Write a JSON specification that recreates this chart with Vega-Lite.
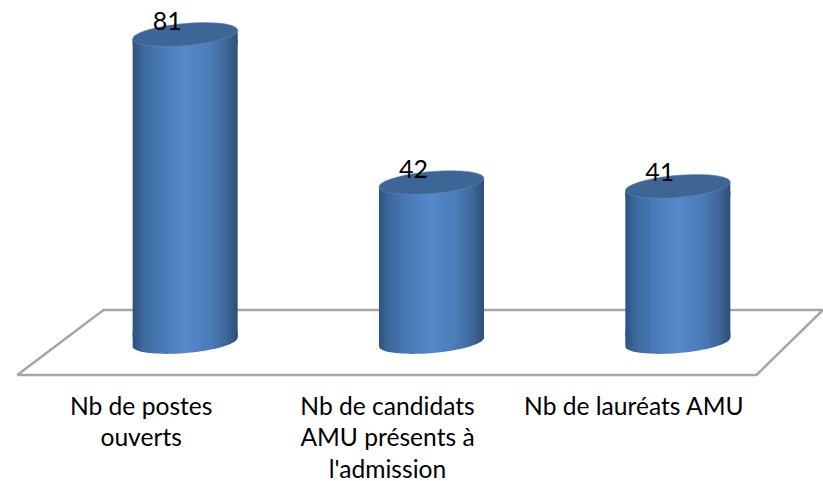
{
"$schema":"https://vega.github.io/schema/vega-lite/v6.json",
"width":823,"height":377,"padding":{"left":0,"top":0,"right":0,"bottom":104},"autosize":{"type":"none"},
"background":"white",
"config":{"view":{"stroke":null}},
"datasets":{
"bars":[{"cat":"Nb de postes ouverts","value":81},{"cat":"Nb de candidats AMU présents à l'admission","value":42},{"cat":"Nb de lauréats AMU","value":41}],
"floor":[{"px":0.32,"depth":-8.69,"o":1},{"px":3.32,"depth":-8.69,"o":2},{"px":3.59,"depth":8.43,"o":3},{"px":0.67,"depth":8.43,"o":4},{"px":0.32,"depth":-8.69,"o":5}]
},
"resolve":{"scale":{"x":"independent"}},
"layer":[
{"data":{"name":"floor"},
 "mark":{"type":"line","stroke":"#a6a6a6","strokeWidth":2.5,"clip":true},
 "encoding":{
  "x":{"field":"px","type":"quantitative","scale":{"domain":[0.25,3.59]},"axis":null},
  "y":{"field":"depth","type":"quantitative","scale":{"domain":[-9.22,90.1],"nice":false,"zero":false},"axis":null},
  "order":{"field":"o","type":"quantitative"}}},
{"data":{"name":"bars"},
 "encoding":{
  "x":{"field":"cat","type":"nominal","sort":null,"title":null,
   "scale":{"range":[62,801],"paddingInner":0,"paddingOuter":0},
   "axis":{"domain":false,"ticks":false,"grid":false,"labelAngle":0,"labelOffset":-44,"labelPadding":18,"labelFont":"Lato","labelFontSize":24.6,"labelColor":"#000000","labelLineHeight":31.5,"labelLimit":400,"labelBaseline":"top","labelAlign":"center",
    "labelExpr":"datum.label == 'Nb de postes ouverts' ? ['Nb de postes','ouverts'] : datum.label == 'Nb de lauréats AMU' ? datum.label : ['Nb de candidats','AMU présents à',\"l'admission\"]"}}},
 "layer":[
  {"mark":{"type":"point","filled":true,"opacity":1,"size":11025,"shape":"M -1 -0.2 L 1 -0.2 L 1 -0.087 A 1 0.21 -5 1 1 -1 0.087 Z","fill":{"x1":0,"x2":1,"y1":0,"y2":0,"gradient":"linear","stops":[{"offset":0,"color":"#2b5080"},{"offset":0.08,"color":"#3a6699"},{"offset":0.25,"color":"#4778b4"},{"offset":0.5,"color":"#5688ca"},{"offset":0.72,"color":"#4b7dba"},{"offset":0.88,"color":"#40699c"},{"offset":1,"color":"#2f4e76"}]}},
   "encoding":{"y":{"datum":0,"type":"quantitative"}}},
  {"mark":{"type":"bar","size":105,"yOffset":5,"y2Offset":-5,"fill":{"x1":0,"x2":1,"y1":0,"y2":0,"gradient":"linear","stops":[{"offset":0,"color":"#2b5080"},{"offset":0.08,"color":"#3a6699"},{"offset":0.25,"color":"#4778b4"},{"offset":0.5,"color":"#5688ca"},{"offset":0.72,"color":"#4b7dba"},{"offset":0.88,"color":"#40699c"},{"offset":1,"color":"#2f4e76"}]}},
   "encoding":{"y":{"field":"value","type":"quantitative"},"y2":{"datum":0}}},
  {"mark":{"type":"point","filled":true,"opacity":1,"size":11025,"shape":"M -1 0.087 L 1 -0.087 L 1 0.2 L -1 0.2 Z","fill":{"x1":0,"x2":1,"y1":0,"y2":0,"gradient":"linear","stops":[{"offset":0,"color":"#2b5080"},{"offset":0.08,"color":"#3a6699"},{"offset":0.25,"color":"#4778b4"},{"offset":0.5,"color":"#5688ca"},{"offset":0.72,"color":"#4b7dba"},{"offset":0.88,"color":"#40699c"},{"offset":1,"color":"#2f4e76"}]}},
   "encoding":{"y":{"field":"value","type":"quantitative"}}},
  {"mark":{"type":"point","filled":true,"opacity":1,"size":11025,"shape":"M -1 0.087 A 1 0.21 -5 1 1 1 -0.087 A 1 0.21 -5 1 1 -1 0.087 Z","fill":"#3d6697","stroke":"#6b8db5","strokeWidth":0.5},
   "encoding":{"y":{"field":"value","type":"quantitative"}}},
  {"mark":{"type":"text","font":"Lato","fontSize":25,"color":"#000000","dx":-18,"dy":-13},
   "encoding":{"y":{"field":"value","type":"quantitative"},"text":{"field":"value","type":"quantitative"}}}
 ]}
]
}
